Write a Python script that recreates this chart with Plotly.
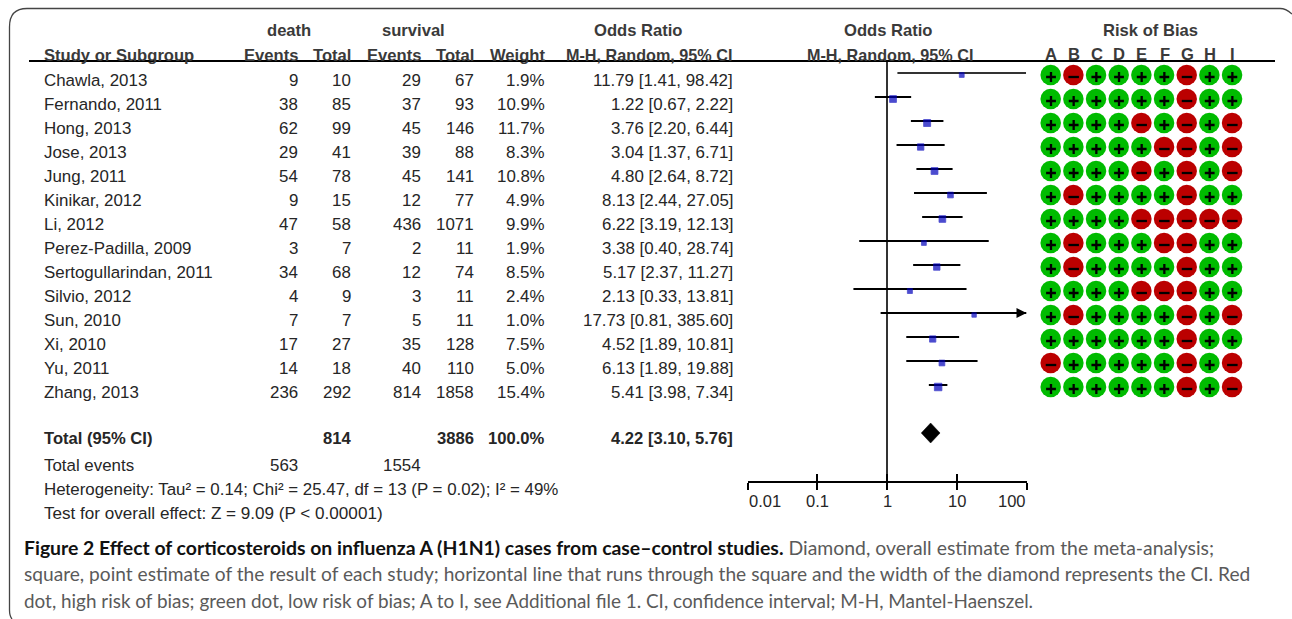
import math
import plotly.graph_objects as go

W, H = 1292, 619

studies = ["Chawla, 2013", "Fernando, 2011", "Hong, 2013", "Jose, 2013", "Jung, 2011", "Kinikar, 2012", "Li, 2012",
           "Perez-Padilla, 2009", "Sertogullarindan, 2011", "Silvio, 2012", "Sun, 2010", "Xi, 2010", "Yu, 2011", "Zhang, 2013"]
death_events = [9, 38, 62, 29, 54, 9, 47, 3, 34, 4, 7, 17, 14, 236]
death_total = [10, 85, 99, 41, 78, 15, 58, 7, 68, 9, 7, 27, 18, 292]
surv_events = [29, 37, 45, 39, 45, 12, 436, 2, 12, 3, 5, 35, 40, 814]
surv_total = [67, 93, 146, 88, 141, 77, 1071, 11, 74, 11, 11, 128, 110, 1858]
weights = [1.9, 10.9, 11.7, 8.3, 10.8, 4.9, 9.9, 1.9, 8.5, 2.4, 1.0, 7.5, 5.0, 15.4]
odds = [11.79, 1.22, 3.76, 3.04, 4.80, 8.13, 6.22, 3.38, 5.17, 2.13, 17.73, 4.52, 6.13, 5.41]
ci_low = [1.41, 0.67, 2.20, 1.37, 2.64, 2.44, 3.19, 0.40, 2.37, 0.33, 0.81, 1.89, 1.89, 3.98]
ci_high = [98.42, 2.22, 6.44, 6.71, 8.72, 27.05, 12.13, 28.74, 11.27, 13.81, 385.60, 10.81, 19.88, 7.34]
pooled = (4.22, 3.10, 5.76)
bias_domains = list("ABCDEFGHI")
bias = ["+-++++-++", "++++++-++", "++++-+-+-", "+++++--+-", "++++-+-+-", "+-++++-++", "++++-----",
        "+-+++--++", "+-++++-++", "++++---++", "+-++++-+-", "++++++-++", "-+++++-+-", "++++++-+-"]
axis_ticks = [0.01, 0.1, 1, 10, 100]
axis_tick_text = ["0.01", "0.1", "1", "10", "100"]
caption = [
    "<b>Figure 2 Effect of corticosteroids on influenza A (H1N1) cases from case–control studies.</b> "
    "<span style='color:#5a5a5a'>Diamond, overall estimate from the meta-analysis;</span>",
    "square, point estimate of the result of each study; horizontal line that runs through the square and the width of the diamond represents the CI. Red",
    "dot, high risk of bias; green dot, low risk of bias; A to I, see Additional file 1. CI, confidence interval; M-H, Mantel-Haenszel.",
]

FONT = "Liberation Sans"
TXT = "#262626"
HDR = "#3a3a3a"
row_text = [80 + 24 * i for i in range(len(studies))]
row_ci = [73 + 24 * i for i in range(len(studies))]
row_sq = [75 + 24 * i for i in range(len(studies))]

fig = go.Figure()
ann = []


def label(x, y, text, anchor="left", size=16.9, bold=False, color=TXT, family=FONT):
    ann.append(dict(xref="x", yref="y", x=x, y=y, text=f"<b>{text}</b>" if bold else text, showarrow=False,
                    xanchor=anchor, yanchor="middle", align=anchor, borderpad=0, borderwidth=0,
                    font=dict(family=family, size=size, color=color)))


# forest plot (log axis x2, pixel-height axis y)
fig.add_trace(go.Scatter(x=[1, 1], y=[61, 482], xaxis="x2", mode="lines", line=dict(color="#333333", width=2), hoverinfo="skip"))
for i in range(len(studies)):
    hi = min(ci_high[i], axis_ticks[-1])
    fig.add_trace(go.Scatter(x=[ci_low[i], hi], y=[row_ci[i]] * 2, xaxis="x2", mode="lines",
                             line=dict(color="#333333" if i == 0 else "#000000", width=2), hoverinfo="skip"))
    if ci_high[i] > axis_ticks[-1]:
        fig.add_trace(go.Scatter(x=[hi], y=[row_ci[i]], xaxis="x2", mode="markers", hoverinfo="skip", cliponaxis=False,
                                 marker=dict(symbol="arrow-right", size=10, color="#000000", line=dict(width=0))))
fig.add_trace(go.Scatter(x=odds, y=row_sq, xaxis="x2", mode="markers", hoverinfo="skip",
                         marker=dict(symbol="square", color="#0000BB", line=dict(width=0.8, color="#0000BB"),
                                     size=[3.4 + 1.05 * math.sqrt(w) for w in weights])))
fig.add_trace(go.Scatter(x=[pooled[1], pooled[0], pooled[2], pooled[0], pooled[1]], y=[433, 423, 433, 443, 433], xaxis="x2",
                         mode="lines", fill="toself", fillcolor="#000000", line=dict(color="#000000", width=0.5),
                         hoverinfo="skip"))
# keeps the inside-tick axis alive
fig.add_trace(go.Scatter(x=[1], y=[482], xaxis="x3", mode="markers", marker=dict(size=1, opacity=0), hoverinfo="skip"))

# risk of bias grid, drawn on the pixel axes
bx = [1050.7 + 22.67 * j for j in range(len(bias_domains))]
cx, cy, cc, px, py, mx, my = [], [], [], [], [], [], []
for i, r in enumerate(bias):
    for j, s in enumerate(r):
        cx.append(bx[j]); cy.append(row_sq[i]); cc.append("#00BB00" if s == "+" else "#BB0000")
        (px if s == "+" else mx).append(bx[j] + 0.3)
        (py if s == "+" else my).append(row_sq[i] + 2)
fig.add_trace(go.Scatter(x=cx, y=cy, mode="markers", hoverinfo="skip",
                         marker=dict(size=20.5, color=cc, line=dict(width=0))))
fig.add_trace(go.Scatter(x=px, y=py, mode="markers", hoverinfo="skip",
                         marker=dict(symbol="cross-thin", size=7, line=dict(color="#000000", width=2.3))))
fig.add_trace(go.Scatter(x=mx, y=my, mode="markers", hoverinfo="skip",
                         marker=dict(symbol="line-ew", size=7.5, line=dict(color="#000000", width=2.3))))

# header rule
fig.add_shape(type="line", xref="x", yref="y", x0=29, x1=1275, y0=61, y1=61, line=dict(color="#000000", width=2))
# outer rounded frame
fig.add_shape(type="path", xref="x", yref="y", line=dict(color="#444444", width=1.3),
              path="M 12 619 Q 9.5 616 9.5 610 L 9.5 27 Q 9.5 8.5 27 8.5 L 1280 8.5 Q 1286 8.5 1292 14")

# headers
for x, t, a in [(289, "death", "center"), (413, "survival", "center"), (638, "Odds Ratio", "center"),
                (888, "Odds Ratio", "center"), (1150, "Risk of Bias", "center")]:
    label(x, 30, t, a, size=16.6, bold=True, color=HDR)
for x, t, a in [(44, "Study or Subgroup", "left"), (298, "Events", "right"), (351, "Total", "right"),
                (421, "Events", "right"), (474, "Total", "right"), (545, "Weight", "right")]:
    label(x, 55, t, a, size=16.6, bold=True, color=HDR)
for x in [649, 890]:
    label(x, 55, "M-H, Random, 95% CI", "center", size=16.2, bold=True, color=HDR)
for x, t in zip(bx, bias_domains):
    label(x + 0.5, 54, t, "center", size=16.6, bold=True, color=HDR)

# rows
for i, s in enumerate(studies):
    y = row_text[i]
    label(44, y, s)
    label(298, y, death_events[i], "right")
    label(351, y, death_total[i], "right")
    label(421, y, surv_events[i], "right")
    label(474, y, surv_total[i], "right")
    label(545, y, f"{weights[i]:.1f}%", "right")
    label(733, y, f"{odds[i]:.2f} [{ci_low[i]:.2f}, {ci_high[i]:.2f}]", "right")

label(44, 438, "Total (95% CI)", size=16.6, bold=True)
label(351, 438, sum(death_total), "right", size=16.6, bold=True)
label(474, 438, sum(surv_total), "right", size=16.6, bold=True)
label(545, 438, "100.0%", "right", size=16.6, bold=True)
label(733, 438, f"{pooled[0]:.2f} [{pooled[1]:.2f}, {pooled[2]:.2f}]", "right", size=16.6, bold=True)
label(44, 465, "Total events")
label(298, 465, sum(death_events), "right")
label(421, 465, sum(surv_events), "right")
label(44, 489, "Heterogeneity: Tau² = 0.14; Chi² = 25.47, df = 13 (P = 0.02); I² = 49%")
label(44, 513, "Test for overall effect: Z = 9.09 (P < 0.00001)", size=17.1)

for v, t in zip(axis_ticks, axis_tick_text):
    a = "left" if v == axis_ticks[0] else "right" if v == axis_ticks[-1] else "center"
    ann.append(dict(xref="x2", yref="y", x=math.log10(v), y=501, text=t, showarrow=False, xanchor=a, yanchor="middle",
                    borderpad=0, font=dict(family=FONT, size=16.5, color=TXT)))

for y, t, c, s in zip([547, 573, 600], caption, ["#111111", "#5a5a5a", "#5a5a5a"], [19.4, 19.15, 18.9]):
    label(24, y, t, size=s, color=c, family="Lato")

tick_axis = dict(type="log", range=[-2, 2], domain=[747.5 / W, 1026.5 / W], tickmode="array", tickvals=axis_ticks,
                 showgrid=False, zeroline=False, showticklabels=False, showline=True, linecolor="#000000", linewidth=2,
                 tickcolor="#000000", tickwidth=2, ticklen=7, anchor="free", position=1 - 482 / H)
fig.update_layout(
    width=W, height=H, margin=dict(l=0, r=0, t=0, b=0), paper_bgcolor="#ffffff", plot_bgcolor="rgba(0,0,0,0)",
    showlegend=False, annotations=ann,
    xaxis=dict(range=[0, W], domain=[0, 1], visible=False),
    yaxis=dict(range=[H, 0], domain=[0, 1], visible=False),
    xaxis2=dict(tick_axis, ticks="outside"),
    xaxis3=dict(tick_axis, ticks="inside"),
)

fig.write_html("out.html", post_script="document.body.style.margin='0';", config={"displayModeBar": False})
